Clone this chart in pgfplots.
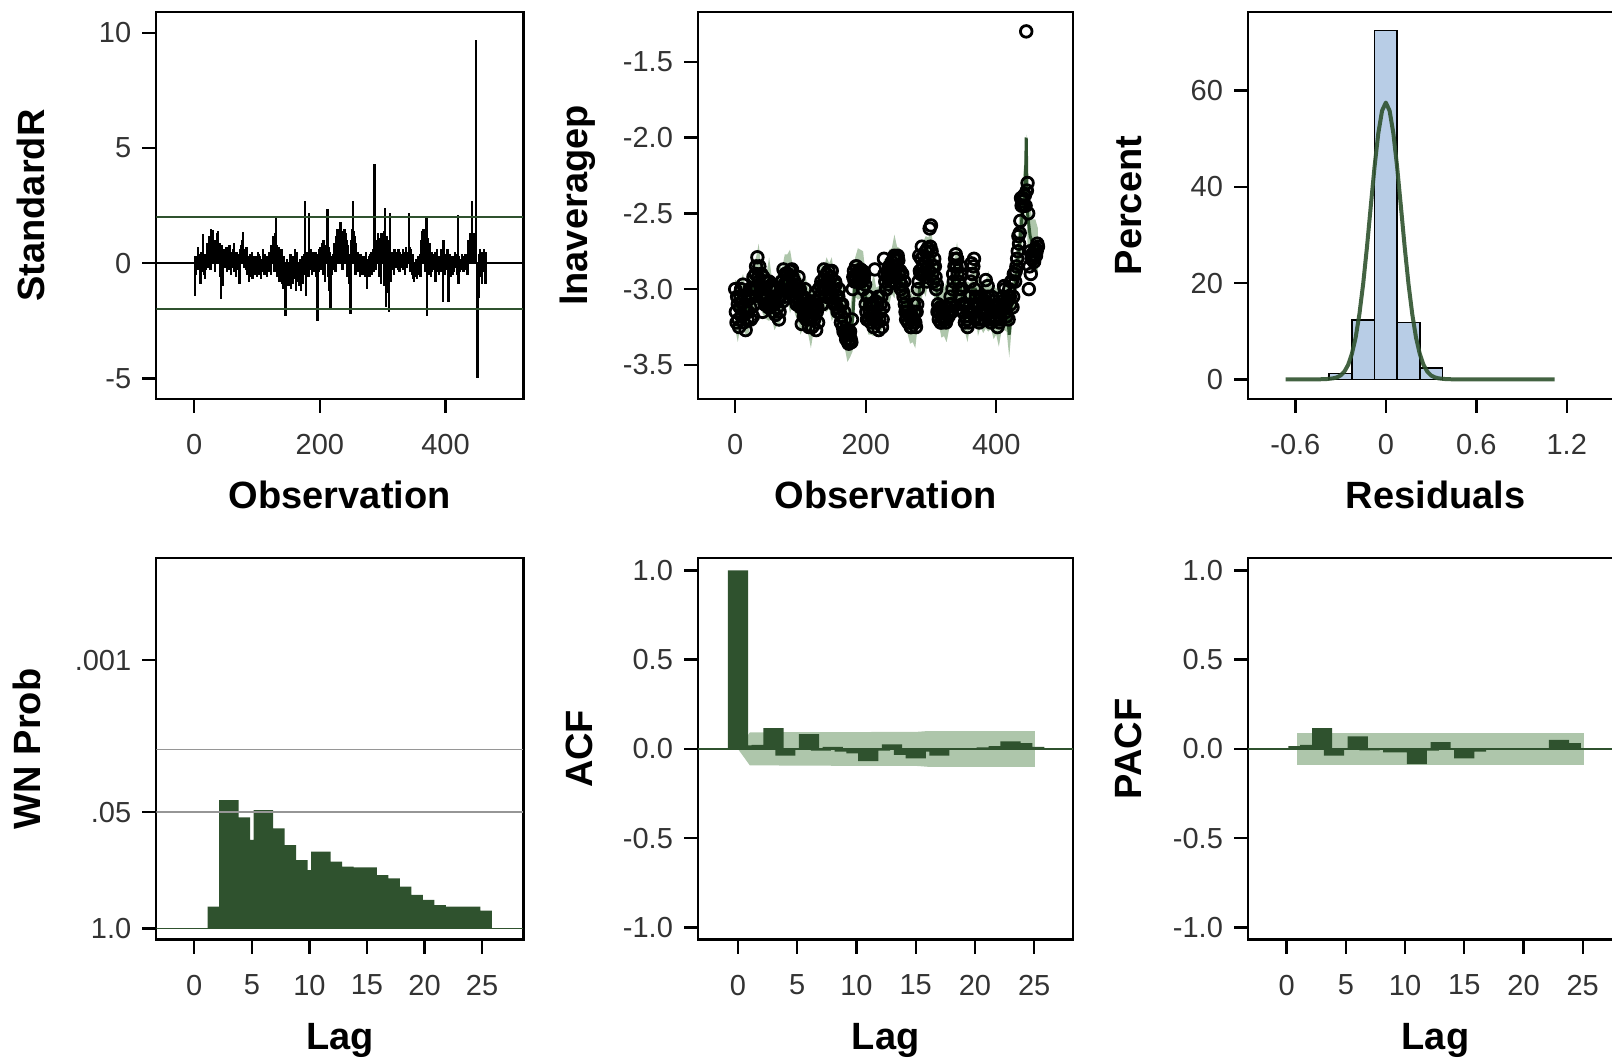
\documentclass[border=0pt]{standalone}
\usepackage{fontspec}
\setmainfont{Liberation Sans}
\usepackage{pgfplots}
\pgfplotsset{compat=1.18}
\usepackage{pgfplotstable}
\definecolor{dkgreen}{RGB}{47,82,46}
\definecolor{bandgreen}{RGB}{174,198,171}
\definecolor{histblue}{RGB}{184,205,230}
\definecolor{refgray}{RGB}{150,150,150}

\pgfplotsset{
  diag/.style={
    scale only axis,
    axis line style={line width=1.2pt},
    tick align=outside,
    xtick pos=left, ytick pos=left,
    major tick length=7pt,
    every tick/.style={black,line width=1.2pt},
    /pgf/number format/assume math mode=true,
    tick label style={font=\fontsize{14.5}{17}\selectfont, text=black!80},
    xticklabel style={inner sep=0pt, anchor=north},
    yticklabel style={inner sep=0pt, anchor=east},
    xticklabel shift=10.5pt,
    yticklabel shift=5.35pt,
    label style={font=\bfseries\fontsize{19}{22}\selectfont},
    xlabel style={at={(axis description cs:0.5,0)}, anchor=base, yshift=-55pt},
    clip=true,
  },
}

% standardized residuals, observations 1..465
\pgfplotstableread[row sep=\\]{
r\\
-1.4\\ 0.3\\ -0.5\\ 0.2\\ -0.3\\ 0.7\\ -0.2\\ 0.4\\ -0.6\\ -0.9\\
0.5\\ -0.4\\ 0.3\\ 1.25\\ -0.5\\ 0.2\\ -0.7\\ 0.4\\ -0.3\\ 0.6\\
0.9\\ -0.2\\ 1.2\\ 0.4\\ 0.8\\ -0.3\\ 1.5\\ 0.6\\ 1.1\\ 1.45\\
0.3\\ 0.9\\ -0.4\\ 1.0\\ 0.5\\ 1.3\\ 0.7\\ 1.4\\ 0.2\\ 0.9\\
-0.6\\ 0.5\\ -1.55\\ 0.8\\ -1.0\\ 0.3\\ 0.6\\ -0.2\\ 0.5\\ 0.1\\
0.7\\ -0.4\\ 0.4\\ 0.6\\ -0.3\\ 0.8\\ 0.2\\ -0.5\\ 0.5\\ 0.3\\
-0.2\\ 0.6\\ 0.9\\ -0.4\\ 0.3\\ -0.6\\ 0.5\\ 0.2\\ -0.3\\ 0.4\\
-0.5\\ -0.9\\ 0.6\\ 0.8\\ 0.3\\ 1.0\\ 0.5\\ 1.35\\ -0.2\\ 0.6\\
0.4\\ -0.3\\ 0.7\\ 0.2\\ -0.5\\ 0.3\\ -0.8\\ 0.1\\ 0.4\\ -0.6\\
-0.3\\ 0.5\\ -0.7\\ 0.2\\ -0.4\\ 0.3\\ -0.5\\ 0.1\\ 0.3\\ -0.6\\
0.5\\ -0.2\\ 0.4\\ -0.5\\ 0.3\\ -0.7\\ 0.2\\ -0.4\\ 0.6\\ -0.3\\
0.2\\ -0.5\\ 0.4\\ -0.2\\ 0.3\\ -0.6\\ 0.1\\ -0.3\\ 0.5\\ -0.4\\
0.3\\ -0.5\\ 0.8\\ 0.4\\ 1.2\\ 0.6\\ 1.0\\ -0.4\\ 1.3\\ 1.95\\
0.8\\ -0.6\\ 0.5\\ -0.3\\ 0.7\\ -0.8\\ 0.4\\ -0.5\\ 0.6\\ -0.9\\
-0.4\\ -1.1\\ 0.3\\ -0.7\\ -2.3\\ -0.5\\ -0.9\\ 0.2\\ -0.6\\ -1.0\\
-0.3\\ -0.8\\ 0.4\\ -1.1\\ -0.5\\ -0.2\\ -0.9\\ 0.3\\ -0.6\\ 0.6\\
-0.7\\ -1.2\\ -0.4\\ 0.5\\ -0.8\\ -0.3\\ -1.0\\ 0.2\\ -0.6\\ -1.2\\
-0.4\\ 0.3\\ -0.9\\ -0.5\\ 0.4\\ 2.7\\ -0.3\\ -1.4\\ 0.5\\ -0.2\\
0.3\\ -0.6\\ 2.2\\ 0.4\\ -0.3\\ 0.6\\ -0.5\\ 0.2\\ 0.5\\ -0.4\\
0.3\\ -0.2\\ 0.5\\ -0.6\\ 0.4\\ -2.5\\ 0.3\\ -0.4\\ 0.6\\ 0.2\\
0.7\\ -0.3\\ 0.9\\ 0.5\\ -0.5\\ 1.0\\ 0.6\\ -0.8\\ 0.8\\ 0.4\\
1.1\\ 2.35\\ -0.6\\ 0.7\\ -1.2\\ 0.5\\ -2.0\\ 0.3\\ -0.5\\ 0.2\\
0.4\\ -0.3\\ 0.9\\ 0.5\\ -0.4\\ 1.2\\ 0.7\\ 1.5\\ 0.6\\ 1.3\\
0.9\\ 1.6\\ 1.8\\ 0.7\\ 1.2\\ -0.3\\ 1.4\\ 0.8\\ 1.5\\ 0.6\\
1.3\\ 0.5\\ 1.0\\ -0.6\\ 0.8\\ -0.9\\ 0.4\\ -1.2\\ -2.2\\ 1.0\\
1.5\\ 0.8\\ 2.7\\ 1.4\\ 0.6\\ 1.2\\ -0.5\\ 0.9\\ 0.3\\ -0.4\\
0.5\\ -0.3\\ 0.2\\ -0.6\\ 0.4\\ -0.2\\ 0.3\\ -0.5\\ 0.2\\ -0.4\\
0.3\\ -0.6\\ 0.5\\ -0.3\\ -1.1\\ 0.2\\ -0.4\\ 0.3\\ -0.6\\ 0.4\\
-0.3\\ 0.5\\ -0.5\\ 0.2\\ 0.6\\ -0.4\\ 4.3\\ 0.5\\ -0.3\\ 0.6\\
1.0\\ 0.4\\ 1.3\\ -0.6\\ 0.8\\ 1.1\\ -0.9\\ 1.3\\ 0.5\\ 1.2\\
0.7\\ -1.0\\ 1.4\\ 2.4\\ -1.9\\ 1.2\\ 0.6\\ -1.3\\ 1.0\\ -2.1\\
0.8\\ 2.2\\ -0.8\\ 0.5\\ -0.3\\ 0.4\\ 0.2\\ -0.5\\ 0.6\\ 0.3\\
-0.2\\ 0.5\\ 0.4\\ -0.3\\ 0.6\\ 0.2\\ -0.4\\ 0.5\\ 0.3\\ -0.2\\
0.4\\ 0.6\\ -0.3\\ 0.5\\ 0.2\\ -0.5\\ 0.7\\ 0.4\\ -0.2\\ 0.5\\
0.3\\ 2.2\\ 0.7\\ -0.4\\ 0.6\\ 0.3\\ -0.5\\ 0.4\\ -0.7\\ -0.8\\
-0.3\\ -0.6\\ 0.2\\ -0.4\\ -0.7\\ 0.3\\ -0.5\\ -0.2\\ 0.4\\ -0.6\\
0.5\\ 1.0\\ 1.4\\ 0.6\\ 1.5\\ 1.2\\ 0.8\\ -0.4\\ 1.3\\ 2.0\\
-2.3\\ 1.1\\ 0.6\\ -0.5\\ 0.9\\ 0.3\\ -0.6\\ 0.5\\ -0.4\\ 0.2\\
0.4\\ -0.3\\ 0.5\\ -0.8\\ 0.2\\ -0.4\\ 0.6\\ -0.3\\ 0.3\\ -0.5\\
0.2\\ -0.4\\ 0.6\\ -0.3\\ 0.5\\ -1.7\\ 1.0\\ 0.3\\ -0.5\\ 0.4\\
-0.3\\ 0.2\\ 0.6\\ -0.4\\ -1.7\\ 0.3\\ 0.4\\ -0.6\\ 0.2\\ -0.3\\
0.3\\ -0.5\\ 0.2\\ -0.4\\ 0.5\\ -0.2\\ 0.3\\ -0.5\\ 0.4\\ 2.1\\
-0.9\\ 0.3\\ -0.4\\ 0.2\\ -0.3\\ 0.4\\ -0.2\\ 0.3\\ -0.4\\ 0.2\\
-0.3\\ 0.4\\ -0.2\\ 0.3\\ -0.5\\ 0.2\\ 1.0\\ 0.6\\ 1.3\\ 0.5\\
1.1\\ 2.7\\ 1.3\\ 0.7\\ 1.2\\ 0.9\\ 1.3\\ 0.6\\ 9.7\\ -3.4\\
-5.0\\ -3.0\\ -1.5\\ 0.4\\ 0.6\\ -0.6\\ 0.3\\ -0.9\\ 0.5\\ 0.2\\
0.6\\ -0.4\\ 0.3\\ -0.9\\ 0.5\\
}\resid

% observed lnaveragep, even observations 0..464
\pgfplotstableread[row sep=\\]{
v\\
-3.0\\ -3.22\\ -3.1\\ -3.25\\ -3.05\\ -3.18\\ -2.97\\ -3.12\\ -3.27\\ -3.08\\
-3.15\\ -3.0\\ -3.2\\ -3.05\\ -2.92\\ -3.0\\ -2.85\\ -2.79\\ -2.95\\ -3.05\\
-2.9\\ -3.15\\ -3.0\\ -2.95\\ -3.1\\ -3.05\\ -2.95\\ -3.12\\ -3.0\\ -3.08\\
-3.1\\ -3.17\\ -3.0\\ -3.05\\ -3.15\\ -3.0\\ -2.95\\ -2.87\\ -3.05\\ -2.9\\
-2.95\\ -3.02\\ -2.88\\ -3.0\\ -2.92\\ -3.05\\ -2.97\\ -3.1\\ -3.0\\ -3.08\\
-3.12\\ -3.23\\ -3.05\\ -3.15\\ -3.1\\ -3.18\\ -3.1\\ -3.2\\ -3.12\\ -3.25\\
-3.15\\ -3.08\\ -3.27\\ -3.12\\ -3.0\\ -3.05\\ -2.95\\ -3.1\\ -2.87\\ -3.0\\
-2.9\\ -3.02\\ -2.95\\ -3.05\\ -2.88\\ -3.0\\ -3.1\\ -2.97\\ -3.12\\ -3.05\\
-3.15\\ -3.22\\ -3.1\\ -3.28\\ -3.2\\ -3.33\\ -3.3\\ -3.36\\ -3.28\\ -3.35\\
-3.0\\ -2.88\\ -2.92\\ -2.85\\ -2.95\\ -2.9\\ -2.87\\ -2.95\\ -3.0\\ -2.9\\
-3.1\\ -3.2\\ -3.05\\ -3.15\\ -3.22\\ -3.12\\ -3.25\\ -2.87\\ -3.18\\ -3.1\\
-3.27\\ -3.15\\ -3.05\\ -3.2\\ -2.8\\ -2.95\\ -3.0\\ -2.9\\ -2.85\\ -2.95\\
-2.82\\ -2.9\\ -2.78\\ -2.88\\ -2.8\\ -2.81\\ -2.95\\ -3.0\\ -2.9\\ -3.05\\
-3.1\\ -3.2\\ -3.15\\ -3.22\\ -3.18\\ -3.25\\ -3.2\\ -3.1\\ -3.22\\ -3.15\\
-3.0\\ -2.78\\ -2.9\\ -2.72\\ -2.85\\ -2.9\\ -2.75\\ -2.95\\ -2.8\\ -2.6\\
-2.58\\ -2.9\\ -2.95\\ -2.85\\ -3.0\\ -3.15\\ -3.2\\ -3.12\\ -3.22\\ -3.15\\
-3.18\\ -3.12\\ -3.2\\ -3.15\\ -3.1\\ -3.05\\ -3.15\\ -2.9\\ -2.85\\ -2.77\\
-2.8\\ -2.95\\ -3.05\\ -2.9\\ -3.1\\ -3.15\\ -3.22\\ -3.1\\ -3.25\\ -3.12\\
-3.05\\ -2.83\\ -2.9\\ -2.8\\ -3.1\\ -3.18\\ -3.1\\ -3.22\\ -3.15\\ -3.05\\
-3.1\\ -3.2\\ -2.94\\ -3.15\\ -3.05\\ -3.12\\ -3.22\\ -3.15\\ -3.08\\ -3.2\\
-3.15\\ -3.25\\ -3.1\\ -3.2\\ -3.12\\ -3.05\\ -2.98\\ -3.1\\ -3.18\\ -3.05\\
-3.0\\ -3.1\\ -2.95\\ -3.05\\ -2.9\\ -2.88\\ -2.8\\ -2.65\\ -2.63\\ -2.4\\
-2.42\\ -2.45\\ -2.38\\ -1.3\\ -2.3\\ -3.0\\ -2.75\\ -2.8\\ -2.78\\ -2.82\\
-2.73\\ -2.75\\ -2.72\\
}\obs

% observed lnaveragep, odd observations 1..463
\pgfplotstableread[row sep=\\]{
v\\
-3.15\\ -3.05\\ -3.2\\ -3.12\\ -3.0\\ -3.08\\ -3.22\\ -3.05\\ -3.15\\ -3.2\\
-3.05\\ -3.12\\ -3.0\\ -3.18\\ -3.1\\ -2.9\\ -3.0\\ -2.92\\ -2.85\\ -2.98\\
-3.05\\ -2.92\\ -3.1\\ -3.05\\ -2.95\\ -3.12\\ -3.0\\ -2.98\\ -3.1\\ -3.15\\
-3.05\\ -3.0\\ -3.12\\ -3.2\\ -3.05\\ -2.95\\ -3.08\\ -2.97\\ -2.9\\ -3.02\\
-2.9\\ -2.95\\ -3.0\\ -2.87\\ -2.98\\ -2.95\\ -3.08\\ -3.02\\ -2.92\\ -3.0\\
-3.05\\ -3.12\\ -3.18\\ -3.0\\ -3.2\\ -3.1\\ -3.25\\ -3.08\\ -3.15\\ -3.18\\
-3.2\\ -3.1\\ -3.15\\ -3.22\\ -3.05\\ -2.98\\ -3.1\\ -3.0\\ -2.92\\ -3.05\\
-2.97\\ -2.88\\ -3.0\\ -2.92\\ -3.05\\ -3.08\\ -2.95\\ -3.05\\ -3.15\\ -3.0\\
-3.1\\ -3.18\\ -3.25\\ -3.15\\ -3.3\\ -3.27\\ -3.35\\ -3.3\\ -3.33\\ -3.2\\
-2.92\\ -2.95\\ -2.85\\ -2.9\\ -2.88\\ -2.95\\ -2.9\\ -2.88\\ -2.93\\ -2.97\\
-3.15\\ -3.05\\ -3.2\\ -3.1\\ -3.17\\ -3.2\\ -3.15\\ -3.08\\ -3.22\\ -3.05\\
-3.2\\ -3.1\\ -3.25\\ -3.12\\ -2.9\\ -3.0\\ -2.92\\ -2.97\\ -2.88\\ -2.92\\
-2.88\\ -2.8\\ -2.85\\ -2.92\\ -2.78\\ -2.9\\ -2.88\\ -2.97\\ -3.02\\ -2.95\\
-3.15\\ -3.12\\ -3.22\\ -3.18\\ -3.25\\ -3.18\\ -3.22\\ -3.15\\ -3.25\\ -3.1\\
-2.95\\ -2.88\\ -2.8\\ -2.9\\ -2.78\\ -2.82\\ -2.92\\ -2.73\\ -2.88\\ -2.72\\
-2.75\\ -2.85\\ -2.8\\ -2.92\\ -2.97\\ -3.1\\ -3.15\\ -3.22\\ -3.12\\ -3.2\\
-3.15\\ -3.22\\ -3.12\\ -3.18\\ -3.15\\ -3.1\\ -3.0\\ -2.95\\ -2.8\\ -2.85\\
-2.9\\ -3.0\\ -2.85\\ -3.0\\ -3.15\\ -3.1\\ -3.18\\ -3.2\\ -3.15\\ -3.22\\
-2.95\\ -2.9\\ -2.85\\ -3.0\\ -3.05\\ -3.12\\ -3.2\\ -3.05\\ -3.2\\ -3.12\\
-3.15\\ -3.05\\ -3.1\\ -2.98\\ -3.2\\ -3.18\\ -3.05\\ -3.2\\ -3.12\\ -3.15\\
-3.2\\ -3.1\\ -3.22\\ -3.15\\ -3.08\\ -3.12\\ -3.0\\ -3.15\\ -3.08\\ -3.2\\
-3.05\\ -2.95\\ -3.12\\ -2.9\\ -2.95\\ -2.85\\ -2.75\\ -2.7\\ -2.55\\ -2.45\\
-2.4\\ -2.38\\ -2.45\\ -2.35\\ -2.5\\ -2.85\\ -2.9\\ -2.77\\ -2.8\\ -2.75\\
-2.78\\ -2.7\\
}\obsodd

% one-step prediction
\pgfplotstableread[row sep=\\]{
x p\\
0 -3.10\\ 4 -3.15\\ 8 -3.10\\ 12 -3.08\\ 16 -3.15\\ 20 -3.10\\ 24 -3.05\\ 28 -3.00\\
32 -2.95\\ 36 -2.90\\ 40 -3.00\\ 44 -3.00\\ 48 -3.05\\ 52 -3.00\\ 56 -3.05\\ 60 -3.10\\
64 -3.08\\ 68 -3.05\\ 72 -3.00\\ 76 -2.95\\ 80 -2.92\\ 84 -2.95\\ 88 -2.97\\ 92 -3.00\\
96 -3.05\\ 100 -3.10\\ 104 -3.12\\ 108 -3.10\\ 112 -3.15\\ 116 -3.18\\ 120 -3.15\\ 124 -3.12\\
128 -3.10\\ 132 -3.02\\ 136 -3.00\\ 140 -2.97\\ 144 -2.98\\ 148 -3.00\\ 152 -3.05\\ 156 -3.07\\
160 -3.12\\ 164 -3.18\\ 168 -3.25\\ 172 -3.30\\ 176 -3.30\\ 180 -3.20\\ 184 -2.92\\ 188 -2.90\\
192 -2.90\\ 196 -2.95\\ 200 -3.05\\ 204 -3.12\\ 208 -3.15\\ 212 -3.10\\ 216 -3.12\\ 220 -3.15\\
224 -3.12\\ 228 -3.00\\ 232 -2.95\\ 236 -2.92\\ 240 -2.88\\ 244 -2.85\\ 248 -2.85\\ 252 -2.90\\
256 -2.97\\ 260 -3.08\\ 264 -3.15\\ 268 -3.18\\ 272 -3.20\\ 276 -3.18\\ 280 -3.10\\ 284 -2.95\\
288 -2.85\\ 292 -2.85\\ 296 -2.80\\ 300 -2.78\\ 304 -2.88\\ 308 -2.98\\ 312 -3.10\\ 316 -3.15\\
320 -3.15\\ 324 -3.15\\ 328 -3.12\\ 332 -3.05\\ 336 -2.95\\ 340 -2.90\\ 344 -2.97\\ 348 -3.05\\
352 -3.12\\ 356 -3.15\\ 360 -3.10\\ 364 -3.00\\ 368 -3.00\\ 372 -3.10\\ 376 -3.12\\ 380 -3.12\\
384 -3.10\\ 388 -3.08\\ 392 -3.12\\ 396 -3.15\\ 400 -3.15\\ 404 -3.17\\ 408 -3.15\\ 412 -3.10\\
416 -3.12\\ 420 -3.30\\ 424 -3.10\\ 428 -3.00\\ 432 -2.85\\ 436 -2.70\\ 440 -2.50\\ 444 -2.35\\
445 -2.25\\ 446 -2.00\\ 447 -2.30\\ 448 -2.50\\ 452 -2.65\\ 456 -2.70\\ 460 -2.72\\ 464 -2.75\\
}\pred

% outline of the prediction band: upper edge forward, lower edge back
\pgfplotstableread[row sep=\\]{
x y\\
0 -2.94\\ 4 -2.95\\ 8 -2.96\\ 12 -2.90\\ 16 -3.00\\ 20 -2.89\\ 24 -2.92\\ 28 -2.83\\
32 -2.79\\ 36 -2.70\\ 40 -2.86\\ 44 -2.82\\ 48 -2.90\\ 52 -2.79\\ 56 -2.92\\ 60 -2.93\\
64 -2.92\\ 68 -2.85\\ 72 -2.86\\ 76 -2.77\\ 80 -2.77\\ 84 -2.74\\ 88 -2.84\\ 92 -2.83\\
96 -2.89\\ 100 -2.90\\ 104 -2.98\\ 108 -2.92\\ 112 -3.00\\ 116 -2.97\\ 120 -3.02\\ 124 -2.95\\
128 -2.94\\ 132 -2.82\\ 136 -2.86\\ 140 -2.79\\ 144 -2.83\\ 148 -2.79\\ 152 -2.92\\ 156 -2.90\\
160 -2.96\\ 164 -2.98\\ 168 -3.11\\ 172 -3.12\\ 176 -3.15\\ 180 -2.99\\ 184 -2.79\\ 188 -2.73\\
192 -2.74\\ 196 -2.75\\ 200 -2.91\\ 204 -2.94\\ 208 -3.00\\ 212 -2.89\\ 216 -2.99\\ 220 -2.98\\
224 -2.96\\ 228 -2.80\\ 232 -2.81\\ 236 -2.74\\ 240 -2.73\\ 244 -2.64\\ 248 -2.72\\ 252 -2.73\\
256 -2.81\\ 260 -2.88\\ 264 -3.01\\ 268 -3.00\\ 272 -3.05\\ 276 -2.97\\ 280 -2.97\\ 284 -2.78\\
288 -2.69\\ 292 -2.65\\ 296 -2.66\\ 300 -2.60\\ 304 -2.73\\ 308 -2.77\\ 312 -2.97\\ 316 -2.98\\
320 -2.99\\ 324 -2.95\\ 328 -2.98\\ 332 -2.87\\ 336 -2.80\\ 340 -2.69\\ 344 -2.84\\ 348 -2.88\\
352 -2.96\\ 356 -2.95\\ 360 -2.96\\ 364 -2.82\\ 368 -2.85\\ 372 -2.89\\ 376 -2.99\\ 380 -2.95\\
384 -2.94\\ 388 -2.88\\ 392 -2.98\\ 396 -2.97\\ 400 -3.00\\ 404 -2.96\\ 408 -3.02\\ 412 -2.93\\
416 -2.96\\ 420 -3.10\\ 424 -2.96\\ 428 -2.82\\ 432 -2.70\\ 436 -2.49\\ 440 -2.30\\ 444 -2.13\\
445 -2.05\\ 446 -1.98\\ 447 -2.10\\ 448 -2.30\\ 452 -2.47\\ 456 -2.54\\ 460 -2.54\\ 464 -2.60\\
464 -2.90\\ 460 -2.90\\ 456 -2.86\\ 452 -2.83\\ 448 -2.70\\ 447 -2.55\\ 446 -2.50\\ 445 -2.47\\
444 -2.57\\ 440 -2.70\\ 436 -2.91\\ 432 -3.00\\ 428 -3.18\\ 424 -3.24\\ 420 -3.45\\ 416 -3.28\\
412 -3.27\\ 408 -3.28\\ 404 -3.38\\ 400 -3.30\\ 396 -3.33\\ 392 -3.26\\ 388 -3.28\\ 384 -3.26\\
380 -3.29\\ 376 -3.25\\ 372 -3.31\\ 368 -3.15\\ 364 -3.18\\ 360 -3.24\\ 356 -3.35\\ 352 -3.28\\
348 -3.22\\ 344 -3.10\\ 340 -3.11\\ 336 -3.10\\ 332 -3.23\\ 328 -3.26\\ 324 -3.35\\ 320 -3.31\\
316 -3.32\\ 312 -3.23\\ 308 -3.19\\ 304 -3.03\\ 300 -2.96\\ 296 -2.94\\ 292 -3.05\\ 288 -3.01\\
284 -3.12\\ 280 -3.23\\ 276 -3.39\\ 272 -3.35\\ 268 -3.36\\ 264 -3.29\\ 260 -3.28\\ 256 -3.13\\
252 -3.07\\ 248 -2.98\\ 244 -3.06\\ 240 -3.03\\ 236 -3.10\\ 232 -3.09\\ 228 -3.20\\ 224 -3.28\\
220 -3.32\\ 216 -3.25\\ 212 -3.31\\ 208 -3.30\\ 204 -3.30\\ 200 -3.19\\ 196 -3.15\\ 192 -3.06\\
188 -3.07\\ 184 -3.05\\ 180 -3.41\\ 176 -3.45\\ 172 -3.48\\ 168 -3.39\\ 164 -3.38\\ 160 -3.28\\
156 -3.24\\ 152 -3.18\\ 148 -3.21\\ 144 -3.13\\ 140 -3.15\\ 136 -3.14\\ 132 -3.22\\ 128 -3.26\\
124 -3.29\\ 120 -3.28\\ 116 -3.39\\ 112 -3.30\\ 108 -3.28\\ 104 -3.26\\ 100 -3.30\\ 96 -3.21\\
92 -3.17\\ 88 -3.10\\ 84 -3.16\\ 80 -3.07\\ 76 -3.13\\ 72 -3.14\\ 68 -3.25\\ 64 -3.24\\
60 -3.27\\ 56 -3.18\\ 52 -3.21\\ 48 -3.20\\ 44 -3.18\\ 40 -3.14\\ 36 -3.10\\ 32 -3.11\\
28 -3.17\\ 24 -3.18\\ 20 -3.31\\ 16 -3.30\\ 12 -3.26\\ 8 -3.24\\ 4 -3.35\\ 0 -3.26\\
}\bandpoly

\begin{document}
\begin{tikzpicture}
\useasboundingbox (0,0) rectangle (806pt,-529pt);
\clip (0,0) rectangle (806pt,-529pt);

% ---------- P1: standardized residuals
\begin{axis}[diag, at={(78.15pt,-6.15pt)}, anchor=north west,
  width=183.5pt, height=193.3pt,
  xmin=-60.5, xmax=524, ymin=-5.89, ymax=10.9,
  xtick={0,200,400}, ytick={-5,0,5,10}, yticklabels={-5,0,5,10},
  xlabel={Observation}, ylabel={StandardR},
  ylabel style={at={(axis description cs:-0.305,0.5)}, anchor=base}]
\addplot[ycomb, black, line width=1.2pt, mark=none] table[x expr=\coordindex+1, y=r] {\resid};
\addplot[dkgreen, line width=0.9pt] coordinates {(-60.5,2) (524,2)};
\addplot[dkgreen, line width=0.9pt] coordinates {(-60.5,-2) (524,-2)};
\addplot[black, line width=1pt] coordinates {(-60.5,0) (524,0)};
\end{axis}

% ---------- P2: lnaveragep
\begin{axis}[diag, at={(349pt,-6.15pt)}, anchor=north west,
  width=187.6pt, height=193.3pt,
  xmin=-57, xmax=518, ymin=-3.724, ymax=-1.174,
  xtick={0,200,400}, ytick={-3.5,-3,-2.5,-2,-1.5},
  yticklabels={-3.5,-3.0,-2.5,-2.0,-1.5},
  xlabel={Observation}, ylabel={lnaveragep},
  ylabel style={at={(axis description cs:-0.2945,0.5)}, anchor=base}]
\addplot[fill=bandgreen, draw=none] table[x=x, y=y] {\bandpoly};
\addplot[dkgreen, line width=1.5pt] table[x=x, y=p] {\pred};
\addplot[only marks, mark=o, mark size=2.9pt, black, mark options={line width=1.4pt}] table[x expr=2*\coordindex, y=v] {\obs};
\addplot[only marks, mark=o, mark size=2.9pt, black, mark options={line width=1.4pt}] table[x expr=2*\coordindex+1, y=v] {\obsodd};
\end{axis}

% ---------- P3: residual histogram
\begin{axis}[diag, at={(624pt,-6.15pt)}, anchor=north west,
  width=187.5pt, height=193.3pt,
  xmin=-0.914, xmax=1.573, ymin=-4.07, ymax=76.25,
  xtick={-0.6,0,0.6,1.2}, xticklabels={-0.6,0,0.6,1.2},
  ytick={0,20,40,60},
  xlabel={Residuals}, ylabel={Percent},
  ylabel style={at={(axis description cs:-0.283,0.5)}, anchor=base}]
\addplot[ybar interval, fill=histblue, draw=black, line width=0.8pt]
  coordinates {(-0.375,1.2) (-0.225,12.3) (-0.075,72.5) (0.075,11.8) (0.225,2.4) (0.375,2.4)};
\addplot[dkgreen, line width=2pt, opacity=0.9, line join=round] coordinates {
 (-0.665,0) (-0.45,0) (-0.4,0.03) (-0.35,0.2) (-0.325,0.4) (-0.3,0.8) (-0.275,1.6) (-0.25,3.0)
 (-0.225,5.3) (-0.2,8.7) (-0.175,13.6) (-0.15,19.9) (-0.125,27.5) (-0.1,35.9) (-0.075,44.1)
 (-0.05,51.1) (-0.025,55.8) (0,57.5) (0.025,55.8) (0.05,51.1) (0.075,44.1) (0.1,35.9)
 (0.125,27.5) (0.15,19.9) (0.175,13.6) (0.2,8.7) (0.225,5.3) (0.25,3.0) (0.275,1.6)
 (0.3,0.8) (0.325,0.4) (0.35,0.2) (0.4,0.03) (0.45,0) (1.12,0)};
\end{axis}

% ---------- P4: white noise probabilities
\begin{axis}[diag, at={(78.15pt,-279.1pt)}, anchor=north west,
  width=183.5pt, height=190.7pt,
  xmin=-3.3, xmax=28.58, ymin=-0.126, ymax=4.14,
  xtick={0,5,10,15,20,25},
  ytick={0,1.30103,3}, yticklabels={1.0,.05,.001},
  xlabel={Lag}, ylabel={WN Prob},
  ylabel style={at={(axis description cs:-0.315,0.5)}, anchor=base}]
\addplot[ybar, bar width=1.7, bar shift=0pt, fill=dkgreen, draw=none] coordinates {
 (2,0.242) (3,1.435) (4,1.241) (5,0.99) (6,1.323) (7,1.118) (8,0.931) (9,0.764)
 (10,0.652) (11,0.857) (12,0.745) (13,0.69) (14,0.682) (15,0.682) (16,0.596)
 (17,0.559) (18,0.466) (19,0.373) (20,0.317) (21,0.261) (22,0.242) (23,0.242)
 (24,0.242) (25,0.198)};
\addplot[refgray, line width=0.9pt] coordinates {(-3.3,2) (28.58,2)};
\addplot[refgray, line width=0.9pt] coordinates {(-3.3,1.30103) (28.58,1.30103)};
\addplot[dkgreen, line width=0.8pt] coordinates {(-3.3,0) (28.58,0)};
\end{axis}

% ---------- P5: ACF
\begin{axis}[diag, at={(349pt,-279.1pt)}, anchor=north west,
  width=187.6pt, height=190.7pt,
  xmin=-3.37, xmax=28.29, ymin=-1.068, ymax=1.068,
  xtick={0,5,10,15,20,25},
  ytick={-1,-0.5,0,0.5,1}, yticklabels={-1.0,-0.5,0.0,0.5,1.0},
  xlabel={Lag}, ylabel={ACF},
  ylabel style={at={(axis description cs:-0.2825,0.5)}, anchor=base}]
\addplot[fill=bandgreen, draw=none] coordinates {
 (0,0) (1,0.092) (3,0.092) (4,0.094) (15,0.095) (16,0.1) (25.05,0.1)
 (25.05,-0.1) (16,-0.1) (15,-0.095) (4,-0.094) (3,-0.092) (1,-0.092)};
\addplot[ybar, bar width=1.7, bar shift=0pt, fill=dkgreen, draw=none] coordinates {
 (0,1.0) (1,0.02) (2,0.023) (3,0.116) (4,-0.038) (5,0.005) (6,0.083) (7,-0.01)
 (8,0.012) (9,-0.015) (10,-0.025) (11,-0.068) (12,-0.01) (13,0.026) (14,-0.034)
 (15,-0.053) (16,-0.015) (17,-0.038) (18,-0.005) (19,0.0) (20,0.003) (21,0.008)
 (22,0.015) (23,0.042) (24,0.032) (25,0.012)};
\addplot[dkgreen, line width=0.7pt] coordinates {(-3.37,0) (28.29,0)};
\end{axis}

% ---------- P6: PACF
\begin{axis}[diag, at={(624pt,-279.1pt)}, anchor=north west,
  width=187.5pt, height=190.7pt,
  xmin=-3.26, xmax=28.4, ymin=-1.068, ymax=1.068,
  xtick={0,5,10,15,20,25},
  ytick={-1,-0.5,0,0.5,1}, yticklabels={-1.0,-0.5,0.0,0.5,1.0},
  xlabel={Lag}, ylabel={PACF},
  ylabel style={at={(axis description cs:-0.285,0.5)}, anchor=base}]
\addplot[fill=bandgreen, draw=none] coordinates {
 (0.9,0.088) (25.1,0.088) (25.1,-0.088) (0.9,-0.088)};
\addplot[ybar, bar width=1.7, bar shift=0pt, fill=dkgreen, draw=none] coordinates {
 (1,0.015) (2,0.023) (3,0.117) (4,-0.038) (5,0.0) (6,0.07) (7,-0.008) (8,-0.005)
 (9,-0.02) (10,-0.02) (11,-0.085) (12,-0.01) (13,0.038) (14,0.005) (15,-0.053)
 (16,-0.015) (17,-0.005) (18,0.0) (19,0.003) (20,0.003) (21,0.003) (22,0.005)
 (23,0.051) (24,0.032) (25,0.003)};
\addplot[dkgreen, line width=0.7pt] coordinates {(-3.26,0) (28.4,0)};
\end{axis}
\end{tikzpicture}
\end{document}
